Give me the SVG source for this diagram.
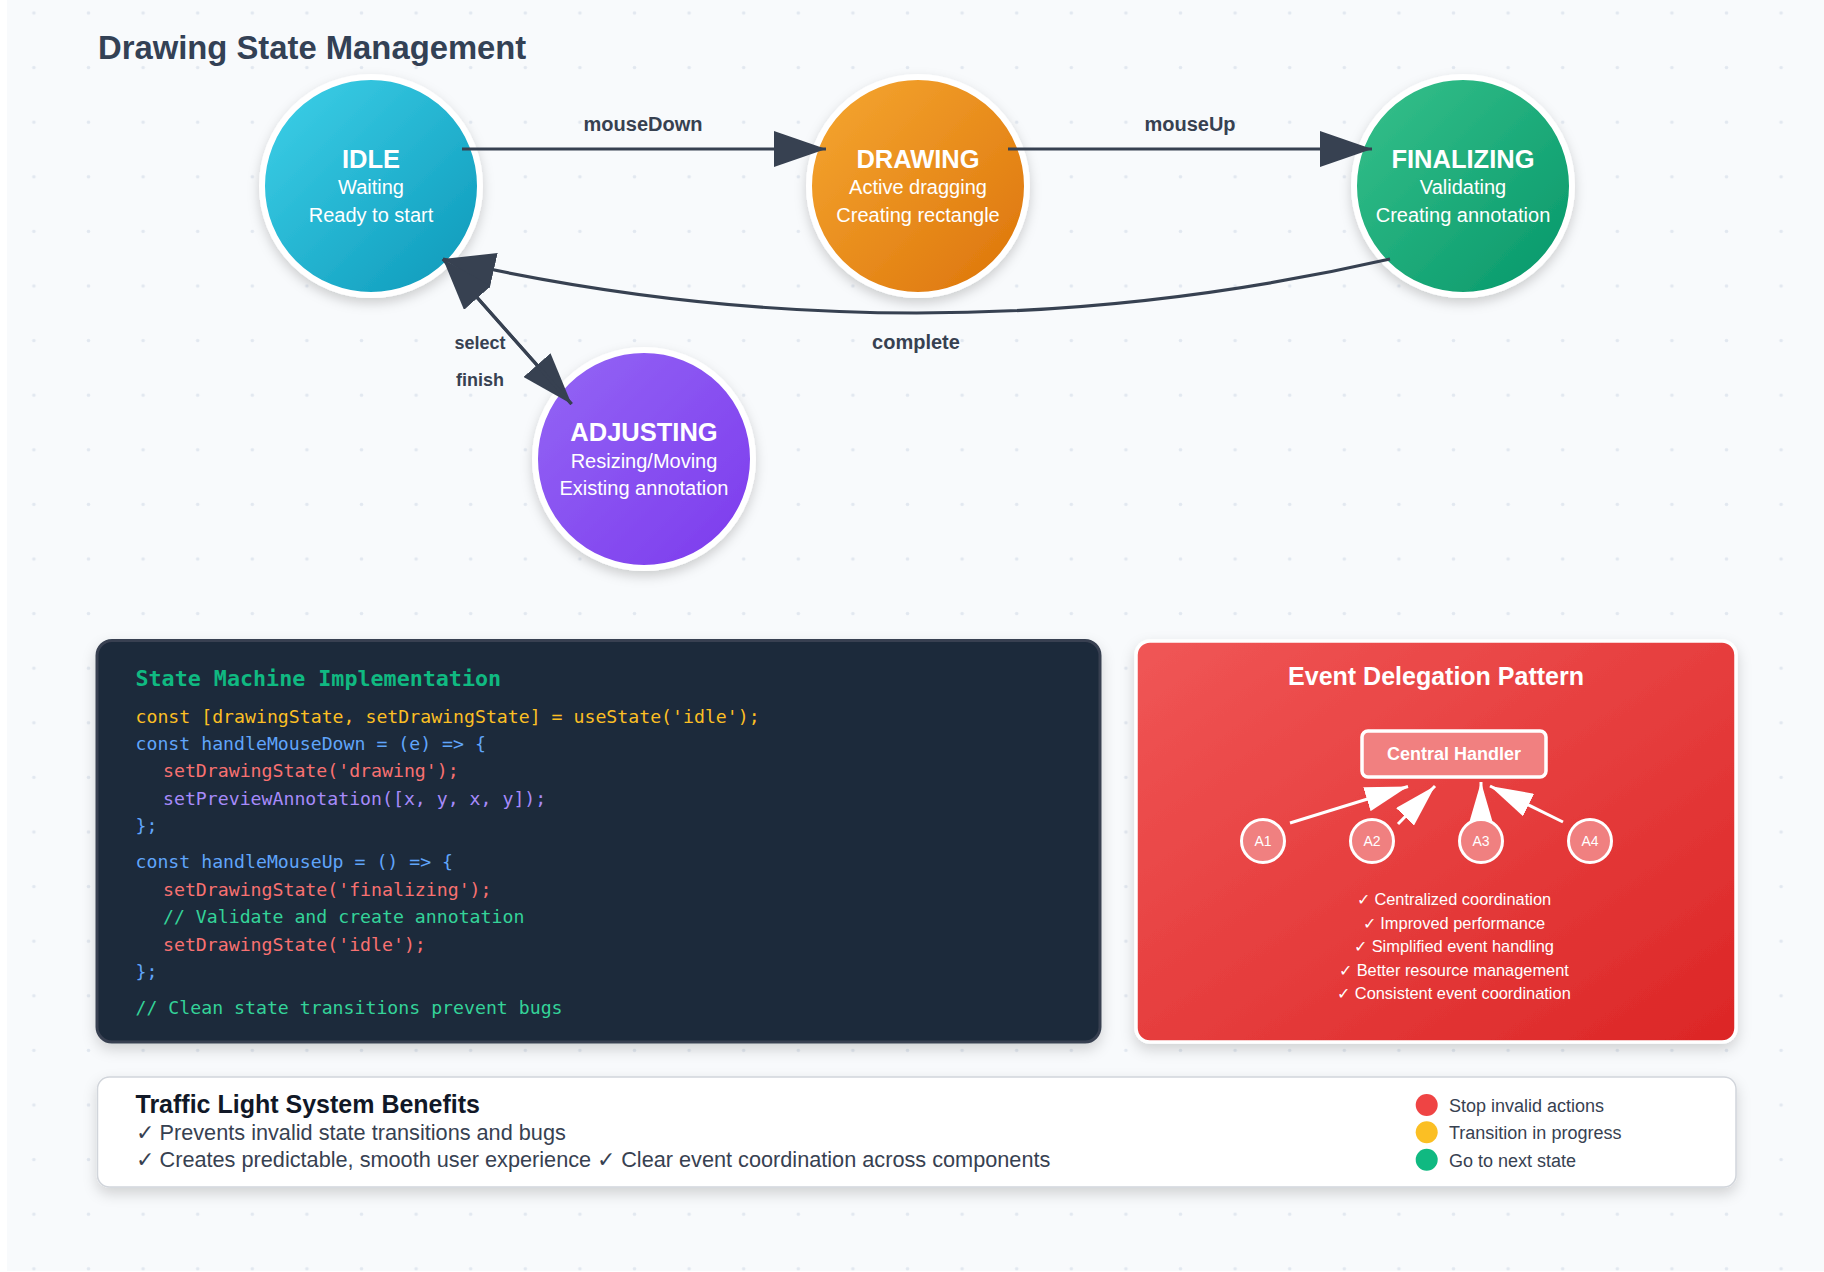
<svg xmlns="http://www.w3.org/2000/svg" width="1824" height="1272" viewBox="0 0 1824 1272">
<defs>
<style>
.sans{font-family:"Liberation Sans",Arial,sans-serif}
.mono{font-family:"DejaVu Sans Mono","Liberation Mono",monospace;font-size:18.2px}
.mtitle{font-family:"DejaVu Sans Mono","Liberation Mono",monospace;font-size:21.7px;font-weight:bold;fill:#10b981}
.ntitle{font-family:"Liberation Sans",Arial,sans-serif;font-size:25.5px;font-weight:bold;fill:#fff;text-anchor:middle}
.nsub{font-family:"Liberation Sans",Arial,sans-serif;font-size:20px;fill:#fff;text-anchor:middle}
.elabel{font-family:"Liberation Sans",Arial,sans-serif;font-size:20px;font-weight:bold;fill:#374151;text-anchor:middle}
.slabel{font-family:"Liberation Sans",Arial,sans-serif;font-size:18px;font-weight:bold;fill:#374151;text-anchor:middle}
.conn{fill:none;stroke:#374151;stroke-width:3.2}
.wconn{fill:none;stroke:#fff;stroke-width:3}
.node{stroke:#fff;stroke-width:6}
.acirc{fill:#f08080;stroke:#fff;stroke-width:3}
.alabel{font-family:"Liberation Sans",Arial,sans-serif;font-size:14px;fill:#fff;text-anchor:middle}
.list{font-family:"Liberation Sans",Arial,sans-serif;font-size:16.4px;fill:#fff;text-anchor:middle}
.legend{font-family:"Liberation Sans",Arial,sans-serif;font-size:18px;fill:#374151}
.ben{font-family:"Liberation Sans",Arial,sans-serif;font-size:21.7px;fill:#374151}
</style>
<pattern id="dots" patternUnits="userSpaceOnUse" x="6.6" y="-14.3" width="54.6" height="54.6">
<circle cx="27.3" cy="27.3" r="1.8" fill="#e2e8f0"/>
</pattern>
<linearGradient id="gIdle" x1="0" y1="0" x2="1" y2="1"><stop offset="0" stop-color="#3fd2ea"/><stop offset="1" stop-color="#0b97b8"/></linearGradient>
<linearGradient id="gDraw" x1="0" y1="0" x2="1" y2="1"><stop offset="0" stop-color="#f6a832"/><stop offset="1" stop-color="#dc7309"/></linearGradient>
<linearGradient id="gFin" x1="0" y1="0" x2="1" y2="1"><stop offset="0" stop-color="#38c28c"/><stop offset="1" stop-color="#059669"/></linearGradient>
<linearGradient id="gAdj" x1="0" y1="0" x2="1" y2="1"><stop offset="0" stop-color="#9466f5"/><stop offset="1" stop-color="#7c3aed"/></linearGradient>
<linearGradient id="gRed" x1="0" y1="0" x2="1" y2="1"><stop offset="0" stop-color="#f05656"/><stop offset="1" stop-color="#dc2626"/></linearGradient>
<filter id="shadow" x="-20%" y="-20%" width="140%" height="150%">
<feDropShadow dx="0" dy="5" stdDeviation="6" flood-color="#000" flood-opacity="0.18"/>
</filter>
<filter id="pshadow" x="-5%" y="-10%" width="110%" height="130%">
<feDropShadow dx="0" dy="6" stdDeviation="7" flood-color="#000" flood-opacity="0.16"/>
</filter>
<filter id="blur4"><feGaussianBlur stdDeviation="4"/></filter>
<marker id="arr" markerUnits="userSpaceOnUse" viewBox="0 0 52 36" refX="52" refY="18" markerWidth="52" markerHeight="36" orient="auto">
<path d="M0,0 L52,18 L0,36 Z" fill="#374151"/>
</marker>
<marker id="warr" markerUnits="userSpaceOnUse" viewBox="0 0 43 25" refX="43" refY="12.5" markerWidth="43" markerHeight="25" orient="auto">
<path d="M0,0 L43,12.5 L0,25 Z" fill="#fff"/>
</marker>
</defs>

<rect x="0" y="0" width="1824" height="1272" fill="#ffffff"/>
<rect x="7" y="-10" width="1830" height="1281" fill="#f8fafc"/>
<rect x="7" y="-10" width="1830" height="1281" fill="url(#dots)"/>
<rect x="60" y="-16" width="1730" height="14" fill="#000" opacity="0.12" filter="url(#blur4)"/>

<text x="98" y="59" class="sans" font-size="32.8" font-weight="bold" fill="#334155">Drawing State Management</text>

<g id="node-idle">
<circle cx="371" cy="186" r="109" fill="url(#gIdle)" class="node" filter="url(#shadow)"/>
<text x="371" y="167.5" class="ntitle">IDLE</text>
<text x="371" y="194" class="nsub">Waiting</text>
<text x="371" y="221.5" class="nsub">Ready to start</text>
</g>
<g id="node-drawing">
<circle cx="918" cy="186" r="109" fill="url(#gDraw)" class="node" filter="url(#shadow)"/>
<text x="918" y="167.5" class="ntitle">DRAWING</text>
<text x="918" y="194" class="nsub">Active dragging</text>
<text x="918" y="221.5" class="nsub">Creating rectangle</text>
</g>
<g id="node-finalizing">
<circle cx="1463" cy="186" r="109" fill="url(#gFin)" class="node" filter="url(#shadow)"/>
<text x="1463" y="167.5" class="ntitle">FINALIZING</text>
<text x="1463" y="194" class="nsub">Validating</text>
<text x="1463" y="221.5" class="nsub">Creating annotation</text>
</g>
<g id="node-adjusting">
<circle cx="644" cy="459" r="109" fill="url(#gAdj)" class="node" filter="url(#shadow)"/>
<text x="644" y="440.5" class="ntitle">ADJUSTING</text>
<text x="644" y="467.5" class="nsub">Resizing/Moving</text>
<text x="644" y="494.5" class="nsub">Existing annotation</text>
</g>

<g id="connectors">
<line x1="462" y1="149" x2="826" y2="149" class="conn" marker-end="url(#arr)"/>
<text x="643" y="131" class="elabel">mouseDown</text>
<line x1="1008" y1="149" x2="1372" y2="149" class="conn" marker-end="url(#arr)"/>
<text x="1190" y="131" class="elabel">mouseUp</text>
<path d="M1390,259 Q916.5,367 443,259" class="conn" marker-end="url(#arr)"/>
<text x="916" y="349" class="elabel">complete</text>
<line x1="443" y1="259" x2="571.5" y2="404" class="conn" marker-end="url(#arr)"/>
<line x1="571.5" y1="404" x2="443" y2="259" class="conn" marker-end="url(#arr)"/>
<text x="480" y="349" class="slabel">select</text>
<text x="480" y="386" class="slabel">finish</text>
</g>

<g id="code-panel">
<rect x="97" y="640.5" width="1003" height="401.5" rx="15" fill="#1e293b" stroke="#374151" stroke-width="3" filter="url(#pshadow)"/>
<text x="135.5" y="686" class="mtitle">State Machine Implementation</text>
<text x="135.5" y="723" class="mono" fill="#fbbf24">const [drawingState, setDrawingState] = useState('idle');</text>
<text x="135.5" y="750" class="mono" fill="#60a5fa">const handleMouseDown = (e) =&gt; {</text>
<text x="163" y="777" class="mono" fill="#f87171">setDrawingState('drawing');</text>
<text x="163" y="805" class="mono" fill="#a78bfa">setPreviewAnnotation([x, y, x, y]);</text>
<text x="135.5" y="832" class="mono" fill="#60a5fa">};</text>
<text x="135.5" y="868" class="mono" fill="#60a5fa">const handleMouseUp = () =&gt; {</text>
<text x="163" y="895.5" class="mono" fill="#f87171">setDrawingState('finalizing');</text>
<text x="163" y="923" class="mono" fill="#34d399">// Validate and create annotation</text>
<text x="163" y="950.5" class="mono" fill="#f87171">setDrawingState('idle');</text>
<text x="135.5" y="978" class="mono" fill="#60a5fa">};</text>
<text x="135.5" y="1014" class="mono" fill="#34d399">// Clean state transitions prevent bugs</text>
</g>

<g id="event-panel">
<rect x="1136" y="641" width="600" height="401" rx="14" fill="url(#gRed)" stroke="#fff" stroke-width="3.5" filter="url(#pshadow)"/>
<text x="1436" y="685" class="sans" font-size="25" font-weight="bold" fill="#fff" text-anchor="middle">Event Delegation Pattern</text>
<g id="central-handler">
<rect x="1362" y="731" width="184" height="46" rx="6" fill="#f18080" stroke="#fff" stroke-width="3.5"/>
<text x="1454" y="760" class="sans" font-size="18" font-weight="bold" fill="#fff" text-anchor="middle">Central Handler</text>
</g>
<g id="event-connectors">
<line x1="1290" y1="823" x2="1408" y2="786.5" class="wconn" marker-end="url(#warr)"/>
<line x1="1398" y1="824" x2="1435" y2="786" class="wconn" marker-end="url(#warr)"/>
<line x1="1481" y1="818" x2="1481" y2="782" class="wconn" marker-end="url(#warr)"/>
<line x1="1563" y1="822" x2="1490" y2="786" class="wconn" marker-end="url(#warr)"/>
</g>
<g id="a1"><circle cx="1263" cy="841" r="21.5" class="acirc"/><text x="1263" y="846" class="alabel">A1</text></g>
<g id="a2"><circle cx="1372" cy="841" r="21.5" class="acirc"/><text x="1372" y="846" class="alabel">A2</text></g>
<g id="a3"><circle cx="1481" cy="841" r="21.5" class="acirc"/><text x="1481" y="846" class="alabel">A3</text></g>
<g id="a4"><circle cx="1590" cy="841" r="21.5" class="acirc"/><text x="1590" y="846" class="alabel">A4</text></g>
<text x="1454" y="905" class="list">✓ Centralized coordination</text>
<text x="1454" y="928.5" class="list">✓ Improved performance</text>
<text x="1454" y="952" class="list">✓ Simplified event handling</text>
<text x="1454" y="975.5" class="list">✓ Better resource management</text>
<text x="1454" y="999" class="list">✓ Consistent event coordination</text>
</g>

<g id="benefits-panel">
<rect x="97.5" y="1077" width="1638.5" height="110" rx="12" fill="#fff" stroke="#d1d5db" stroke-width="1.5" filter="url(#pshadow)"/>
<text x="135.5" y="1113" class="sans" font-size="25" font-weight="bold" fill="#111827">Traffic Light System Benefits</text>
<text x="135.5" y="1140" class="ben">✓ Prevents invalid state transitions and bugs</text>
<text x="135.5" y="1167.3" class="ben">✓ Creates predictable, smooth user experience ✓ Clear event coordination across components</text>
<circle cx="1426.7" cy="1105" r="11" fill="#ef4444"/>
<circle cx="1426.7" cy="1132.3" r="11" fill="#fbbf24"/>
<circle cx="1426.7" cy="1159.7" r="11" fill="#10b981"/>
<text x="1449" y="1111.5" class="legend">Stop invalid actions</text>
<text x="1449" y="1139" class="legend">Transition in progress</text>
<text x="1449" y="1166.5" class="legend">Go to next state</text>
</g>
</svg>
